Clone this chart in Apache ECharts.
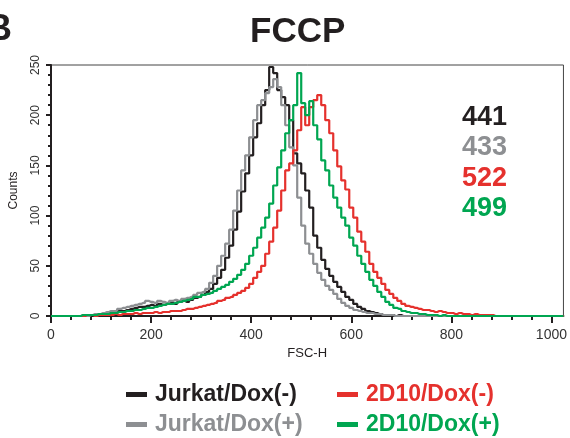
<!DOCTYPE html>
<html>
<head>
<meta charset="utf-8">
<script src="https://cdn.jsdelivr.net/npm/echarts@6/dist/echarts.min.js"></script>
<style>
  html, body { margin: 0; padding: 0; background: #fff; }
  #chart { width: 570px; height: 438px; }
</style>
</head>
<body>
<div id="chart"></div>
<script>
// FSC-H histograms, one count per 8-channel bin (0..1024)
const binWidth = 8
const seriesNames = ['Jurkat/Dox(-)', 'Jurkat/Dox(+)', '2D10/Dox(-)', '2D10/Dox(+)']
const seriesColors = ['#231f20', '#8d8f92', '#e5312d', '#00a651']
const meanValues = [441, 433, 522, 499]

const jurkatMinus = [
  0, 0, 0, 0, 0, 0, 0, 0,
  0, 1, 1, 1, 2, 2, 3, 3,
  4, 5, 5, 6, 7, 8, 9, 9,
  10, 11, 10, 12, 11, 12, 13, 12,
  14, 15, 14, 16, 18, 19, 21, 24,
  27, 32, 38, 46, 58, 70, 86, 104,
  124, 142, 160, 178, 192, 210, 225, 248,
  242, 225, 218, 210, 195, 162, 152, 142,
  125, 108, 80, 68, 56, 47, 40, 34,
  29, 24, 19, 16, 12, 9, 7, 5,
  4, 3, 2, 1, 1, 1, 0, 1,
  0, 0, 0, 0, 0, 0, 0, 0,
  0, 0, 0, 0, 0, 0, 0, 0,
  0, 0, 0, 0, 0, 0, 0, 0,
  0, 0, 0, 0, 0, 0, 0, 0,
  0, 0, 0, 0, 0, 0, 0, 0,
  0
]
const jurkatPlus = [
  0, 0, 0, 0, 0, 0, 0, 0,
  1, 0, 1, 2, 2, 3, 4, 5,
  5, 7, 8, 9, 10, 11, 12, 13,
  15, 14, 13, 15, 14, 13, 15, 16,
  15, 17, 18, 19, 21, 23, 24, 27,
  33, 40, 50, 60, 72, 86, 105, 125,
  145, 160, 178, 195, 210, 215, 222, 228,
  236, 228, 210, 190, 168, 150, 118, 90,
  72, 62, 52, 43, 36, 30, 26, 22,
  17, 13, 10, 8, 6, 5, 4, 3,
  3, 2, 2, 1, 1, 1, 0, 0,
  0, 0, 0, 0, 0, 0, 0, 0,
  0, 0, 0, 0, 0, 0, 0, 0,
  0, 0, 0, 0, 0, 0, 0, 0,
  0, 0, 0, 0, 0, 0, 0, 0,
  0, 0, 0, 0, 0, 0, 0, 0,
  0
]
const d10Minus = [
  0, 0, 0, 0, 0, 0, 0, 0,
  0, 1, 1, 0, 1, 1, 1, 1,
  2, 1, 2, 2, 2, 3, 2, 3,
  3, 3, 4, 3, 4, 4, 5, 5,
  5, 6, 7, 7, 8, 9, 10, 11,
  12, 13, 15, 16, 18, 19, 21, 23,
  25, 28, 32, 38, 44, 50, 62, 74,
  88, 105, 125, 145, 152, 165, 185, 208,
  190, 208, 215, 220, 210, 195, 182, 165,
  149, 135, 126, 108, 98, 84, 74, 64,
  52, 44, 38, 32, 26, 22, 18, 15,
  12, 10, 9, 8, 7, 6, 6, 5,
  4, 5, 4, 3, 3, 2, 3, 2,
  2, 1, 2, 1, 1, 1, 1, 0,
  0, 0, 0, 0, 0, 0, 0, 0,
  0, 0, 0, 0, 0, 0, 0, 0,
  0
]
const d10Plus = [
  0, 0, 0, 0, 0, 0, 0, 0,
  1, 1, 1, 1, 2, 2, 2, 3,
  3, 4, 4, 5, 5, 6, 6, 7,
  8, 8, 9, 10, 11, 12, 12, 13,
  14, 15, 16, 17, 19, 19, 21, 22,
  23, 25, 27, 29, 31, 34, 37, 41,
  46, 52, 60, 68, 78, 88, 98, 112,
  130, 148, 165, 182, 195, 210, 242, 212,
  200, 214, 190, 176, 155, 145, 130, 118,
  108, 98, 90, 78, 70, 60, 52, 44,
  36, 30, 24, 19, 14, 11, 8, 7,
  5, 4, 3, 3, 2, 2, 1, 1,
  1, 0, 1, 0, 0, 0, 0, 0,
  0, 0, 0, 0, 0, 0, 0, 0,
  0, 0, 0, 0, 0, 0, 0, 0,
  0, 0, 0, 0, 0, 0, 0, 0,
  0
]

const xMajorTicks = [0, 200, 400, 600, 800, 1000]
const xMinorTicks = [0, 40, 80, 120, 160, 200, 240, 280, 320, 360, 400, 440, 480,
  520, 560, 600, 640, 680, 720, 760, 800, 840, 880, 920, 960, 1000]

const font = '"Liberation Sans", Arial, sans-serif'
const allCounts = [jurkatMinus, jurkatPlus, d10Minus, d10Plus]
const channels = jurkatMinus.map((_, i) => i * binWidth)

const chart = echarts.init(document.getElementById('chart'))

// one legend box per entry, laid out 2x2 under the plot
const legendSpots = [[121, 378], [121, 408], [332, 378], [332, 408]]
const legends = seriesNames.map((name, i) => ({
  left: legendSpots[i][0],
  top: legendSpots[i][1],
  icon: 'rect',
  itemWidth: 21,
  itemHeight: 5,
  selectedMode: false,
  data: [{ name: name, textStyle: { color: seriesColors[i] } }],
  textStyle: { fontFamily: font, fontWeight: 'bold', fontSize: 23, padding: [0, 0, 0, 3] }
}))

chart.setOption({
  animation: false,
  textStyle: { fontFamily: font },
  title: {
    text: 'FCCP',
    left: 245,
    top: 10,
    textStyle: { fontFamily: font, fontWeight: 'bold', fontSize: 35, color: '#231f20' }
  },
  grid: {
    left: 51,
    right: 6,
    top: 65,
    bottom: 122,
    show: true,
    borderColor: '#444',
    borderWidth: 1
  },
  legend: legends,
  xAxis: [
    {
      type: 'value',
      min: 0,
      max: 1024,
      name: 'FSC-H',
      nameLocation: 'middle',
      nameGap: 27,
      nameTextStyle: { fontSize: 13, color: '#231f20', fontFamily: font },
      splitLine: { show: false },
      axisLine: { show: true, lineStyle: { color: '#231f20', width: 2 } },
      axisTick: { customValues: xMajorTicks, length: 7, lineStyle: { color: '#231f20', width: 2 } },
      axisLabel: {
        customValues: xMajorTicks, margin: 12, fontSize: 14, color: '#333',
        formatter: v => String(v)
      }
    },
    {
      type: 'value',
      min: 0,
      max: 1024,
      position: 'bottom',
      splitLine: { show: false },
      axisLine: { show: false },
      axisTick: { customValues: xMinorTicks, length: 4, lineStyle: { color: '#231f20', width: 2 } },
      axisLabel: { show: false }
    }
  ],
  yAxis: {
    type: 'value',
    min: 0,
    max: 250,
    interval: 50,
    name: 'Counts',
    nameLocation: 'middle',
    nameRotate: 90,
    nameGap: 31,
    nameTextStyle: { fontSize: 12, color: '#231f20', fontFamily: font },
    splitLine: { show: false },
    axisLine: { show: true, lineStyle: { color: '#231f20', width: 2 } },
    axisTick: { show: true, length: 5, lineStyle: { color: '#231f20', width: 2 } },
    minorTick: { show: true, splitNumber: 5, length: 3, lineStyle: { color: '#231f20', width: 2 } },
    axisLabel: { rotate: 90, margin: 9, fontSize: 12, color: '#333' }
  },
  graphic: [
    {
      type: 'text',
      left: -14,
      top: 12,
      style: { text: 'B', font: 'bold 36px ' + font, fill: '#231f20' }
    }
  ].concat(meanValues.map((m, i) => ({
    type: 'text',
    left: 462,
    top: 104 + i * 30.5,
    style: { text: String(m), font: 'bold 27px ' + font, fill: seriesColors[i] }
  }))),
  series: allCounts.map((counts, i) => ({
    name: seriesNames[i],
    type: 'line',
    step: 'middle',
    showSymbol: false,
    data: channels.map((c, j) => [c, counts[j]]),
    lineStyle: { color: seriesColors[i], width: 2.2 },
    itemStyle: { color: seriesColors[i] },
    z: 2 + i
  }))
})
</script>
</body>
</html>
